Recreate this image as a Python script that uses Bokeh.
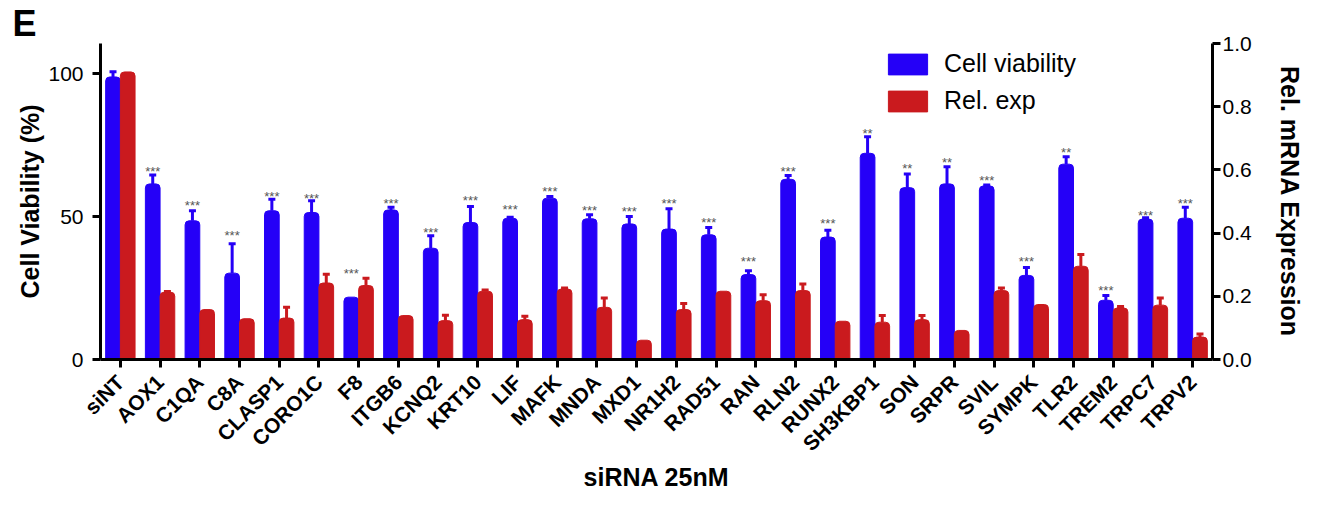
import math
from bokeh.plotting import figure
from bokeh.models import (ColumnDataSource, FactorRange, Range1d, LinearAxis, Whisker, TeeHead,
                          PrintfTickFormatter, Title, FixedTicker)
from bokeh.transform import dodge
from bokeh.core.properties import value
from bokeh.embed import file_html
from bokeh.resources import INLINE

genes = ["siNT", "AOX1", "C1QA", "C8A", "CLASP1", "CORO1C", "F8", "ITGB6", "KCNQ2", "KRT10",
         "LIF", "MAFK", "MNDA", "MXD1", "NR1H2", "RAD51", "RAN", "RLN2", "RUNX2", "SH3KBP1",
         "SON", "SRPR", "SVIL", "SYMPK", "TLR2", "TREM2", "TRPC7", "TRPV2"]

viability = [98.8, 61.4, 48.5, 30.2, 52.0, 51.4, 21.8, 52.3, 38.9, 47.9,
             49.4, 56.4, 49.2, 47.4, 45.6, 43.6, 29.7, 63.0, 42.8, 72.1,
             60.1, 61.4, 60.7, 29.4, 68.3, 20.7, 49.1, 49.4]
viability_sem = [1.8, 3.1, 3.5, 10.3, 4.0, 4.1, 0.0, 0.9, 4.4, 5.6,
                 0.3, 0.6, 1.4, 2.6, 7.1, 2.6, 1.3, 1.3, 2.4, 5.8,
                 4.8, 6.0, 0.3, 2.8, 2.6, 1.7, 0.5, 3.8]

rel_exp = [0.910, 0.213, 0.158, 0.129, 0.131, 0.242, 0.234, 0.139, 0.123, 0.216,
           0.126, 0.223, 0.165, 0.061, 0.158, 0.216, 0.186, 0.218, 0.121, 0.118,
           0.126, 0.092, 0.218, 0.174, 0.295, 0.163, 0.172, 0.071]
rel_exp_sem = [0.0, 0.002, 0.0, 0.0, 0.034, 0.028, 0.023, 0.0, 0.017, 0.004,
               0.011, 0.003, 0.030, 0.0, 0.019, 0.0, 0.019, 0.021, 0.0, 0.021,
               0.013, 0.0, 0.008, 0.0, 0.037, 0.005, 0.023, 0.010]

significance = ["", "***", "***", "***", "***", "***", "***", "***", "***", "***",
                "***", "***", "***", "***", "***", "***", "***", "***", "***", "**",
                "**", "**", "***", "***", "**", "***", "***", "***"]
significance_y = [0, 66.9, 54.9, 44.4, 58.1, 57.3, 31.1, 55.6, 45.6, 56.7,
                  53.5, 59.9, 53.0, 52.7, 55.5, 48.8, 35.4, 66.9, 48.5, 80.2,
                  67.7, 70.0, 63.6, 35.4, 73.3, 25.3, 51.5, 55.5]

BLUE = "#2500F7"
RED = "#CA1A1E"
FONT = "Liberation Sans"
OFF = 0.185
BW = 0.37

p = figure(x_range=FactorRange(factors=genes), y_range=Range1d(0, 110.5),
           width=1306, height=494, output_backend="svg", toolbar_location=None,
           min_border_left=100, min_border_right=91, min_border_top=42, min_border_bottom=135)
p.extra_y_ranges = {"right": Range1d(0, 1.0)}

src = ColumnDataSource(dict(genes=genes, cv=viability, re=rel_exp))

def bars(**kw):
    try:
        return p.vbar(border_radius=(4, 4, 0, 0), **kw)
    except Exception:
        return p.vbar(**kw)

bars(x=dodge("genes", -OFF, range=p.x_range), top="cv", width=BW, source=src,
     fill_color=BLUE, line_color=BLUE, legend_label="Cell viability")
bars(x=dodge("genes", OFF, range=p.x_range), top="re", width=BW, source=src,
     fill_color=RED, line_color=RED, y_range_name="right", legend_label="Rel. exp")

# error bars (upward only)
cv_idx = [i for i in range(len(genes)) if viability_sem[i] > 0]
cv_err = ColumnDataSource(dict(genes=[genes[i] for i in cv_idx],
                               lo=[viability[i] for i in cv_idx],
                               hi=[viability[i] + viability_sem[i] for i in cv_idx]))
p.add_layout(Whisker(source=cv_err, base=dodge("genes", -OFF, range=p.x_range), lower="lo", upper="hi",
                     line_color=BLUE, line_width=3, lower_head=None,
                     upper_head=TeeHead(size=7, line_color=BLUE, line_width=3)))
re_idx = [i for i in range(len(genes)) if rel_exp_sem[i] > 0]
re_err = ColumnDataSource(dict(genes=[genes[i] for i in re_idx],
                               lo=[rel_exp[i] for i in re_idx],
                               hi=[rel_exp[i] + rel_exp_sem[i] for i in re_idx]))
p.add_layout(Whisker(source=re_err, base=dodge("genes", OFF, range=p.x_range), lower="lo", upper="hi",
                     y_range_name="right",
                     line_color=RED, line_width=3, lower_head=None,
                     upper_head=TeeHead(size=7, line_color=RED, line_width=3)))

# significance stars
s_idx = [i for i in range(len(genes)) if significance[i]]
star_src = ColumnDataSource(dict(genes=[genes[i] for i in s_idx],
                                 y=[significance_y[i] for i in s_idx],
                                 t=[significance[i] for i in s_idx]))
p.text(x=dodge("genes", -OFF, range=p.x_range), y="y", text="t", source=star_src,
       text_align="center", text_baseline="middle", text_font_size="13px",
       text_color="#555555", text_font=value(FONT), y_offset=3)

# axes
p.yaxis.ticker = FixedTicker(ticks=[0, 50, 100])
p.yaxis.axis_label = "Cell Viability (%)"
p.xaxis.axis_label = "siRNA 25nM"
right = LinearAxis(y_range_name="right", ticker=FixedTicker(ticks=[0, 0.2, 0.4, 0.6, 0.8, 1.0]),
                   formatter=PrintfTickFormatter(format="%.1f"), axis_label="Rel. mRNA Expression")
p.add_layout(right, "right")

for ax in [p.xaxis[0], p.yaxis[0], right]:
    ax.axis_line_width = 3
    ax.axis_line_color = "black"
    ax.major_tick_line_width = 3
    ax.major_tick_line_color = "black"
    ax.major_tick_out = 8
    ax.major_tick_in = 0
    ax.minor_tick_out = 0
    ax.minor_tick_in = 0
    ax.axis_label_text_font = FONT
    ax.axis_label_text_font_style = "bold"
    ax.axis_label_text_font_size = "25px"
    ax.axis_label_text_color = "black"
    ax.major_label_text_font = FONT
    ax.major_label_text_font_size = "21px"
    ax.major_label_text_color = "black"

p.yaxis[0].major_label_standoff = 9
p.yaxis[0].axis_label_standoff = 1
right.major_label_standoff = 2
right.axis_label_standoff = 21
p.xaxis[0].major_label_orientation = math.pi / 4
p.xaxis[0].major_label_text_font_style = "bold"
p.xaxis[0].major_label_text_font_size = "21px"
p.xaxis[0].major_label_standoff = 11
p.xaxis[0].axis_label_standoff = -3

p.xgrid.visible = False
p.ygrid.visible = False
p.outline_line_color = None

# legend
lg = p.legend[0]
lg.location = (783, 244)
lg.glyph_width = 49
lg.glyph_height = 26
lg.label_height = 29
lg.label_standoff = 12
lg.spacing = 8
lg.padding = 0
lg.margin = 0
lg.border_line_alpha = 0
lg.background_fill_alpha = 0
lg.label_text_font = FONT
lg.label_text_font_size = "25px"
lg.label_text_color = "black"

# panel letter
p.add_layout(Title(text="E", align="left", offset=-88, standoff=0, text_font=FONT,
                   text_font_size="36px", text_font_style="bold", text_color="black"), "above")

open("out.html", "w").write(file_html(p, INLINE))
